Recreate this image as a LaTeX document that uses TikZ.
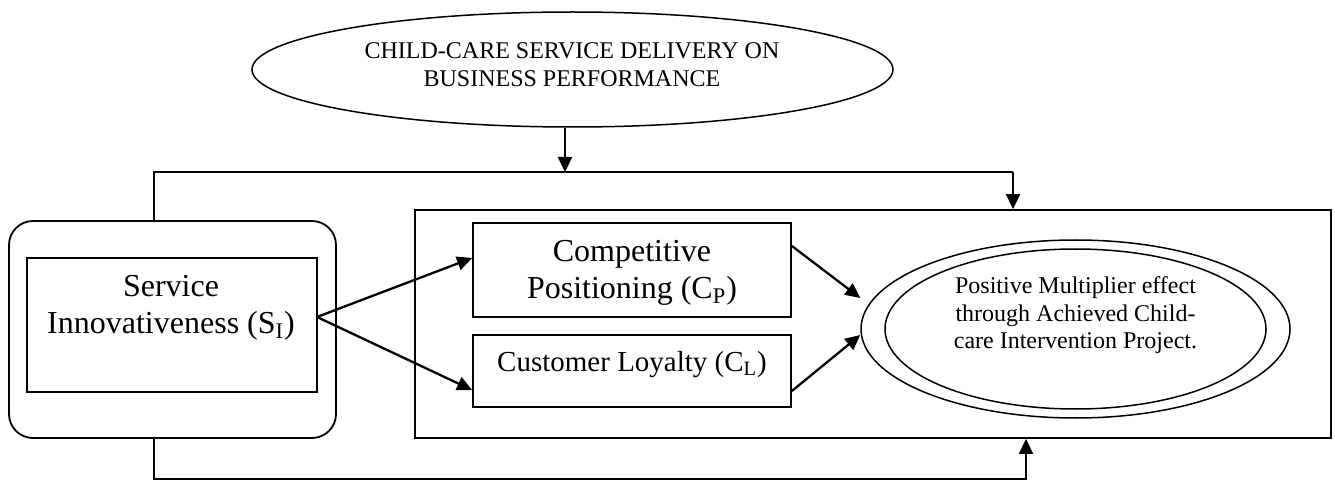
\documentclass[tikz,border=0pt]{standalone}
\usepackage{fontspec}
\setmainfont{Liberation Serif}
\usetikzlibrary{arrows.meta,shapes.geometric,calc}
\begin{document}
\begin{tikzpicture}[x=0.5pt,y=-0.5pt,
  boxline/.style={draw,line width=0.9pt,inner sep=0pt},
  ellline/.style={draw,ellipse,line width=0.75pt,inner sep=0pt},
  route/.style={line width=0.85pt},
  arr/.style={line width=1.15pt,-{Triangle[length=7.5pt,width=7pt]}},
  routearr/.style={line width=0.85pt,-{Triangle[length=7.5pt,width=7pt]}},
  txt/.style={align=center,inner sep=0pt}]
\useasboundingbox (0,0) rectangle (1335,481);
% shapes
\node[ellline,minimum width=320.5pt,minimum height=57.5pt] (top) at (572.5,69.5) {};
\node[txt,font=\fontsize{12pt}{13.85pt}\selectfont] (toptxt) at (572,64.4) {CHILD-CARE SERVICE DELIVERY ON\\BUSINESS PERFORMANCE};
\node[boxline,rounded corners=12pt,minimum width=163.5pt,minimum height=108.5pt] (rbox) at (172.5,329.5) {};
\node[boxline,minimum width=145pt,minimum height=67pt] (si) at (172,325) {};
\node[txt,font=\fontsize{16pt}{18.5pt}\selectfont] (sitxt) at (171,308) {Service\\Innovativeness (S\textsubscript{I})};
\node[boxline,minimum width=458pt,minimum height=114pt] (big) at (873,324) {};
\node[boxline,minimum width=159pt,minimum height=47pt] (cp) at (632,270) {};
\node[txt,font=\fontsize{16pt}{18.5pt}\selectfont] (cptxt) at (632,273) {Competitive\\Positioning (C\textsubscript{P})};
\node[boxline,minimum width=159pt,minimum height=36pt] (cl) at (632,371) {};
\node[txt,font=\fontsize{14.5pt}{17pt}\selectfont] (cltxt) at (632,364.5) {Customer Loyalty (C\textsubscript{L})};
\node[ellline,minimum width=214.5pt,minimum height=89pt] (outer) at (1075.5,329) {};
\node[ellline,minimum width=190.5pt,minimum height=80pt] (inner) at (1075.5,329) {};
\node[txt,font=\fontsize{12pt}{13.75pt}\selectfont] (pmtxt) at (1075.5,315.5) {Positive Multiplier effect\\through Achieved Child-\\care Intervention Project.};
% coordinates for routing
\coordinate (tA) at (565,172);
\coordinate (tl) at (154,172);
\coordinate (tr) at (1013,172);
\coordinate (bl) at (154,479);
\coordinate (br) at (1026,479);
\coordinate (sA) at (317,317);
% connectors
\draw[arr] (top.south -| tA) -- (tA);
\draw[route] (rbox.north -| tl) -- (tl) -- (tr);
\draw[routearr] (tr) -- (big.north -| tr);
\draw[routearr] (rbox.south -| bl) -- (bl) -- (br) -- (big.south -| br);
\draw[arr] (sA) -- ([yshift=6pt]cp.west);
\draw[arr] (sA) -- ([yshift=-9.5pt]cl.west);
\draw[arr] ([yshift=12pt]cp.east) -- ([yshift=15.5pt]outer.west);
\draw[arr] ([yshift=-10pt]cl.east) -- ([yshift=-3pt]outer.west);
\end{tikzpicture}
\end{document}
